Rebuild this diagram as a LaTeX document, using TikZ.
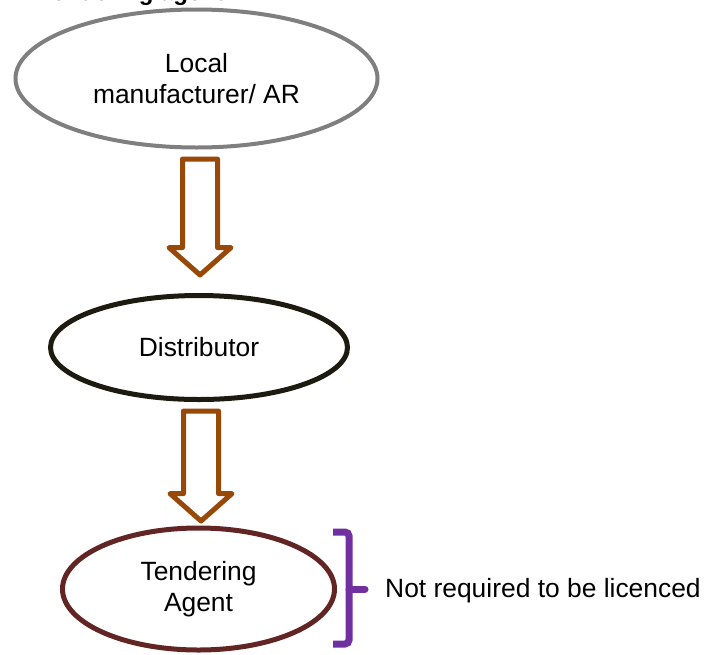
\documentclass[tikz,border=0pt]{standalone}
\usepackage{fontspec}
\setmainfont{Liberation Sans}
\usetikzlibrary{shapes.geometric, shapes.arrows, calc, positioning}
\definecolor{grisbord}{RGB}{127,127,127}
\definecolor{noirbord}{RGB}{29,27,16}
\definecolor{rougebord}{RGB}{99,37,35}
\definecolor{brunfleche}{RGB}{152,72,7}
\definecolor{accol}{RGB}{112,48,160}
\tikzset{
  bulle/.style={ellipse, draw, line width=5, inner sep=0, outer sep=0, align=center},
  fleche/.style={single arrow, draw=brunfleche, line width=5, line join=round, rotate=-90,
    inner xsep=0, inner ysep=15, single arrow head extend=13.5, single arrow tip angle=97,
    outer sep=0, anchor=tail},
  accolade/.style={draw=accol, line width=7}
}

\begin{document}
\begin{tikzpicture}[x=1pt, y=-1pt, every node/.style={font=\fontsize{26.4}{31}\selectfont}]
\clip (0,0) rectangle (707,654);
% titre coupe par le bord du haut
\node[anchor=base west, inner sep=0, font=\bfseries\fontsize{24}{29}\selectfont] (titre) at (39,0) {Tendering agent};
\node[bulle, draw=grisbord, line width=4, minimum width=362, minimum height=138] (fab) at (196.5,78.5) {Local\\manufacturer/ AR};
\node[bulle, draw=noirbord, minimum width=297, minimum height=104] (dist) at (199,347.5) {Distributor};
\node[bulle, draw=rougebord, minimum width=272, minimum height=122] (agent) at (198.5,589) {Tendering\\Agent};
\node[fleche, minimum height=116] (flA) at ($(fab.south)+(3.5,11.5)$) {};
\node[fleche, minimum height=110] (flB) at ($(dist.south)+(2,11.5)$) {};
\draw[accolade, rounded corners=4] (333,532) -- (349,532) -- (349,644) -- (333,644);
\draw[accolade, line cap=round] (349,589) -- (365,589);
\node[anchor=base west, inner sep=0] (note) at (385,597) {Not required to be licenced};
\end{tikzpicture}
\end{document}
